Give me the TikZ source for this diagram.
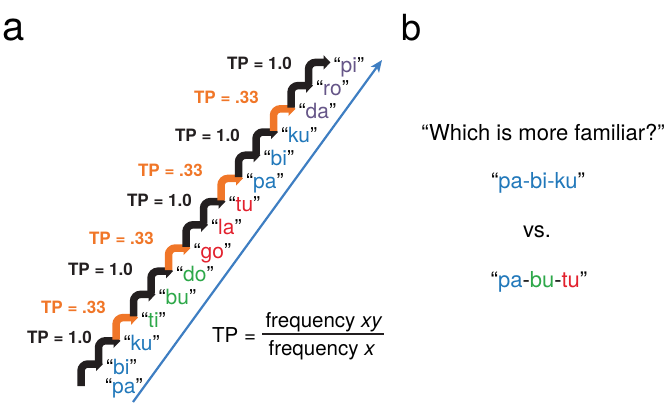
\documentclass[tikz,border=0pt]{standalone}
\usepackage{fontspec}
\setmainfont{TeX Gyre Heros}
\usetikzlibrary{arrows.meta,positioning,calc}
\definecolor{sylblue}{RGB}{33,120,186}
\definecolor{sylgreen}{RGB}{46,168,74}
\definecolor{sylred}{RGB}{226,32,45}
\definecolor{sylpurple}{RGB}{102,86,136}
\definecolor{tporange}{RGB}{240,118,40}
\definecolor{stairblack}{RGB}{35,31,32}
\definecolor{lineblue}{RGB}{62,126,194}
\tikzstyle{stair} = [line width=7.5pt, rounded corners=7pt, -{Triangle[length=7pt,width=14pt]}]
\tikzstyle{syllable} = [anchor=base west, inner sep=0pt, font=\fontsize{21}{24}\selectfont]
\tikzstyle{tplabel} = [anchor=east, inner sep=0pt, font=\fontsize{17}{20}\selectfont\bfseries]
\tikzstyle{formula} = [inner sep=0pt, font=\fontsize{20.5}{24}\selectfont]
\tikzstyle{question} = [anchor=base, inner sep=0pt, font=\fontsize{22}{26}\selectfont]
\tikzstyle{panel} = [anchor=base west, inner sep=0pt]

\begin{document}
\begin{tikzpicture}[x=1pt, y=-1pt]
    \useasboundingbox (0,0) rectangle (666,408);
    % panel letters
    \node[panel, font=\fontsize{40}{40}\selectfont] (panela) at (2,40) {a};
    \node[panel, font=\fontsize{36}{36}\selectfont] (panelb) at (401,40) {b};
    % stairs
    \foreach \i/\c in {1/stairblack,2/stairblack,3/tporange,4/stairblack,5/stairblack,6/tporange,7/stairblack,
                       8/stairblack,9/tporange,10/stairblack,11/stairblack,12/tporange,13/stairblack,14/stairblack} {
        \coordinate (h\i) at ({103+17.5*(\i-1)},{364-23.2*(\i-1)});
        \coordinate (b\i) at ($(h\i)+(-22,22)$);
        \draw[stair, \c] (b\i) |- (h\i);
    }
    % syllables
    \node[syllable] (s0) at ($(b1)+(24,7)$) {“\textcolor{sylblue}{pa}”};
    \foreach \i/\s/\c in {1/bi/sylblue,2/ku/sylblue,3/ti/sylgreen,4/bu/sylgreen,5/do/sylgreen,6/go/sylred,7/la/sylred,
                          8/tu/sylred,9/pa/sylblue,10/bi/sylblue,11/ku/sylblue,12/da/sylpurple,13/ro/sylpurple,14/pi/sylpurple}
        \node[syllable] (s\i) at ($(h\i)+(3,10)$) {“\textcolor{\c}{\s}”};
    % transitional probabilities
    \foreach \x/\y/\t/\c [count=\k] in {92/337/1.0/stairblack,106/307/.33/tporange,133/269/1.0/stairblack,
                                        154/238/.33/tporange,192/200/1.0/stairblack,203/170/.33/tporange,
                                        240/135/1.0/stairblack,259/97/.33/tporange,292/63/1.0/stairblack}
        \node[tplabel, text=\c] (tp\k) at (\x,\y) {TP = \t};
    % sequence direction
    \coordinate (seqstart) at (133,402);
    \coordinate (seqend) at (382,60);
    \draw[lineblue, line width=2.2pt, -{Stealth[length=12pt,width=10pt,inset=3pt]}] (seqstart) -- (seqend);
    % formula
    \node[formula, anchor=base west] (tpname) at (212,342) {TP =};
    \node[formula, anchor=base] (numer) at (324,327) {frequency \textit{xy}};
    \node[formula, anchor=base] (denom) at (322,355) {frequency \textit{x}};
    \coordinate (barl) at (262,334);
    \coordinate (barr) at (384,334);
    \draw[line width=1.8pt, stairblack] (barl) -- (barr);
    % panel b
    \node[question] (ask) at (543,140) {“Which is more familiar?”};
    \node[question] (word1) at (538,188) {“\textcolor{sylblue}{pa-bi-ku}”};
    \node[question] (versus) at (537,237) {vs.};
    \node[question] (word2) at (539,287) {“\textcolor{sylblue}{pa}-\textcolor{sylgreen}{bu}-\textcolor{sylred}{tu}”};
\end{tikzpicture}
\end{document}
